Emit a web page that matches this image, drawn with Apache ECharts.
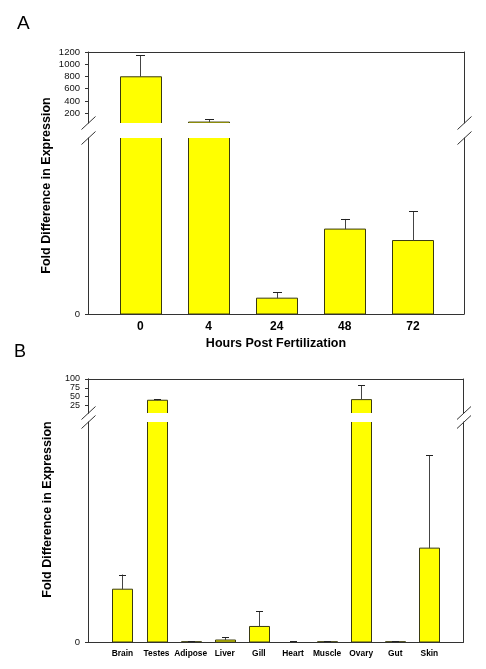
<!DOCTYPE html>
<html>
<head>
<meta charset="utf-8">
<script src="https://cdn.jsdelivr.net/npm/echarts@6/dist/echarts.min.js"></script>
<style>html,body{margin:0;padding:0;background:#fff}#c{width:486px;height:669px}</style>
</head>
<body>
<div id="c"></div>
<script>
// ---- Data ----
const hpfCategories = ['0', '4', '24', '48', '72'];
const hpfMeans = [795, 55, 3.6, 19.3, 16.7];
const hpfErrors = [351, 47, 1.4, 2.3, 6.7];
const hpfUpperTicks = [200, 400, 600, 800, 1000, 1200];
const hpfLowerTicks = [0];

const tissueCategories = ['Brain', 'Testes', 'Adipose', 'Liver', 'Gill', 'Heart', 'Muscle', 'Ovary', 'Gut', 'Skin'];
const tissueMeans = [0.72, 39.4, 0.003, 0.027, 0.212, 0, 0.003, 41.2, 0.003, 1.28];
const tissueErrors = [0.2, 2.9, 0.01, 0.035, 0.21, 0.01, 0.01, 41.5, 0.01, 1.27];
const tissueUpperTicksA = [50, 100];
const tissueUpperTicksB = [25, 75];
const tissueLowerTicks = [0];

// axis ranges of the broken axes
const hpfUpperRange = [40, 1200];
const hpfLowerRange = [0, 40];
const tissueUpperRange = [3, 100];
const tissueLowerRange = [0, 3];

const FONT = 'Liberation Sans, Arial, sans-serif';
const LINE = '#333';

const hpfX = hpfCategories.map((c, i) => i);
const tissueX = tissueCategories.map((c, i) => i);

function xAxisCfg(gridIndex, pos, min, max, cats, labelSize, margin) {
  const ax = {
    type: 'value', gridIndex, position: pos, min, max,
    axisLine: { show: true, onZero: false, lineStyle: { color: LINE, width: 1 } },
    axisTick: { show: false }, splitLine: { show: false },
    axisLabel: { show: false }
  };
  if (cats) {
    ax.axisLabel = {
      show: true, customValues: cats.map((c, i) => i), hideOverlap: false,
      formatter: v => cats[Math.round(v)],
      fontFamily: FONT, fontWeight: 'bold', fontSize: labelSize, color: '#000', margin
    };
  }
  return ax;
}
function yAxisCfg(gridIndex, pos, range, ticks, labelSize, lineH) {
  const ax = {
    type: 'value', gridIndex, position: pos, min: range[0], max: range[1],
    axisLine: { show: true, onZero: false, lineStyle: { color: LINE, width: 1 } },
    splitLine: { show: false },
    axisTick: { show: false }, axisLabel: { show: false }
  };
  if (ticks) {
    ax.axisTick = { show: true, customValues: ticks, length: 3, lineStyle: { color: LINE } };
    ax.axisLabel = {
      show: true, customValues: ticks, hideOverlap: false, showMinLabel: true, showMaxLabel: true,
      formatter: v => String(v),
      fontFamily: FONT, fontSize: labelSize, lineHeight: lineH || labelSize, color: '#111', margin: 8
    };
  }
  return ax;
}
function barRender(width) {
  return function (params, api) {
    const x = api.value(0), v = api.value(1);
    if (!(v > 0)) return null;
    const p0 = api.coord([x, 0]), p1 = api.coord([x, v]);
    const left = Math.round(p0[0] - width / 2) + 0.5;
    return {
      type: 'rect',
      shape: { x: left, y: p1[1], width: width, height: p0[1] - p1[1] },
      style: { fill: '#FFFF00', stroke: '#3a3a10', lineWidth: 1 }
    };
  };
}
function errRender(capHalf) {
  return function (params, api) {
    const cs = params.coordSys;
    const x = api.value(0), m = api.value(1), e = api.value(2);
    const p0 = api.coord([x, m]), p1 = api.coord([x, m + e]);
    const top = cs.y, bot = cs.y + cs.height;
    if (p0[1] < top - 0.5 || p0[1] > bot + 0.5) return null;
    const xx = Math.round(p0[0]) + 0.5;
    const yTop = Math.max(p1[1], top);
    const children = [{ type: 'line', shape: { x1: xx, y1: p0[1], x2: xx, y2: yTop }, style: { stroke: '#444', lineWidth: 1 } }];
    if (p1[1] >= top) {
      const yc = Math.round(p1[1]) + 0.5;
      children.push({ type: 'line', shape: { x1: xx - capHalf, y1: yc, x2: xx + capHalf, y2: yc }, style: { stroke: '#222', lineWidth: 1 } });
    }
    return { type: 'group', children };
  };
}
function barSeries(xi, yi, xs, means, width) {
  return {
    type: 'custom', xAxisIndex: xi, yAxisIndex: yi, clip: true, z: 2,
    data: xs.map((x, i) => [x, means[i]]),
    renderItem: barRender(width), silent: true, animation: false
  };
}
function errSeries(xi, yi, xs, means, errs, capHalf) {
  return {
    type: 'custom', xAxisIndex: xi, yAxisIndex: yi, z: 5, clip: true,
    data: xs.map((x, i) => [x, means[i], errs[i]]),
    renderItem: errRender(capHalf), silent: true, animation: false
  };
}
function breakMark(x, y) {
  return { type: 'line', shape: { x1: x - 7, y1: y + 6.5, x2: x + 7, y2: y - 6.5 }, style: { stroke: LINE, lineWidth: 1 }, silent: true };
}

const aXMin = -0.77, aXMax = 4.75;
const bXMin = -1.01, bXMax = 10.0;

const option = {
  animation: false,
  backgroundColor: '#fff',
  grid: [
    { left: 88, right: 22, top: 52, height: 71, outerBoundsMode: 'none' },
    { left: 88, right: 22, top: 138, height: 176, outerBoundsMode: 'none' },
    { left: 88, right: 22.5, top: 379, height: 34, outerBoundsMode: 'none' },
    { left: 88, right: 22.5, top: 422, height: 220, outerBoundsMode: 'none' }
  ],
  xAxis: [
    xAxisCfg(0, 'top', aXMin, aXMax, null),
    Object.assign(xAxisCfg(1, 'bottom', aXMin, aXMax, hpfCategories, 12, 7), {
      name: 'Hours Post Fertilization', nameLocation: 'middle', nameGap: 23,
      nameTextStyle: { fontFamily: FONT, fontWeight: 'bold', fontSize: 12.5, color: '#000', verticalAlign: 'top' }
    }),
    xAxisCfg(2, 'top', bXMin, bXMax, null),
    xAxisCfg(3, 'bottom', bXMin, bXMax, tissueCategories, 8.4, 8)
  ],
  yAxis: [
    yAxisCfg(0, 'left', hpfUpperRange, hpfUpperTicks, 9.5),
    yAxisCfg(0, 'right', hpfUpperRange, null),
    yAxisCfg(1, 'left', hpfLowerRange, hpfLowerTicks, 9.5),
    yAxisCfg(1, 'right', hpfLowerRange, null),
    yAxisCfg(2, 'left', tissueUpperRange, tissueUpperTicksA, 9, 7),
    yAxisCfg(2, 'right', tissueUpperRange, null),
    yAxisCfg(3, 'left', tissueLowerRange, tissueLowerTicks, 9.5),
    yAxisCfg(3, 'right', tissueLowerRange, null),
    yAxisCfg(2, 'left', tissueUpperRange, tissueUpperTicksB, 9, 7)
  ],
  series: [
    barSeries(0, 0, hpfX, hpfMeans, 41),
    barSeries(1, 2, hpfX, hpfMeans, 41),
    errSeries(0, 0, hpfX, hpfMeans, hpfErrors, 4.5),
    errSeries(1, 2, hpfX, hpfMeans, hpfErrors, 4.5),
    barSeries(2, 4, tissueX, tissueMeans, 20),
    barSeries(3, 6, tissueX, tissueMeans, 20),
    errSeries(2, 4, tissueX, tissueMeans, tissueErrors, 3.5),
    errSeries(3, 6, tissueX, tissueMeans, tissueErrors, 3.5)
  ],
  graphic: [
    { type: 'text', left: 17, top: 14, style: { text: 'A', font: '19px ' + FONT, fill: '#000' } },
    { type: 'text', left: 14, top: 343, style: { text: 'B', font: '18px ' + FONT, fill: '#000' } },
    { type: 'text', x: 47, y: 185.5, rotation: Math.PI / 2,
      style: { text: 'Fold Difference in Expression', font: 'bold 12.5px ' + FONT, fill: '#000', align: 'center', verticalAlign: 'middle' } },
    { type: 'text', x: 47.5, y: 509.5, rotation: Math.PI / 2,
      style: { text: 'Fold Difference in Expression', font: 'bold 12.5px ' + FONT, fill: '#000', align: 'center', verticalAlign: 'middle' } },
    breakMark(88.5, 123), breakMark(88.5, 138), breakMark(464.5, 123), breakMark(464.5, 138),
    breakMark(88.5, 413), breakMark(88.5, 422), breakMark(464, 413), breakMark(464, 422)
  ]
};

const chart = echarts.init(document.getElementById('c'), null, { renderer: 'canvas' });
chart.setOption(option);
</script>
</body>
</html>
